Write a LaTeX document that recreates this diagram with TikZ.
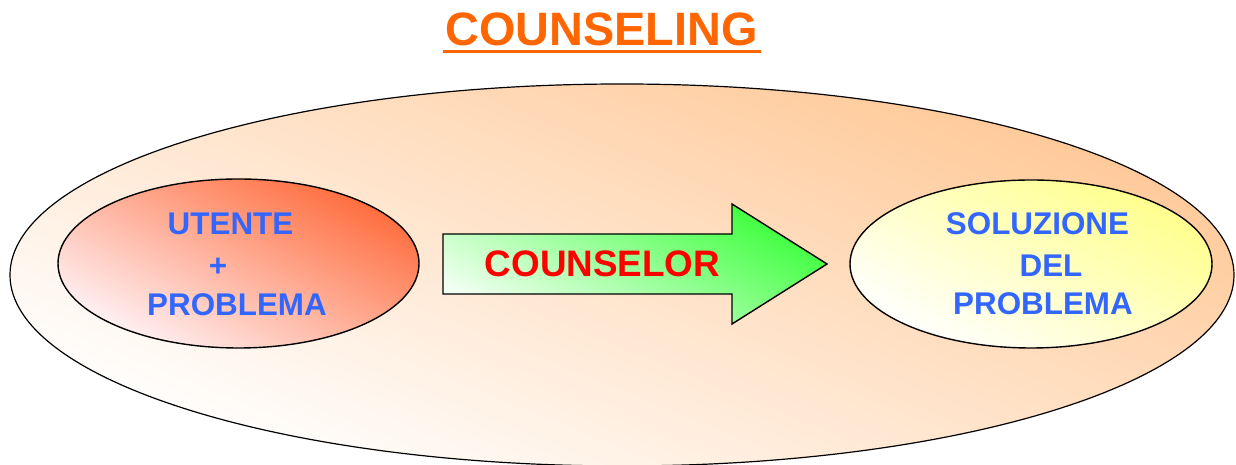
\documentclass[tikz,border=0pt]{standalone}
\usepackage{fontspec}
\setmainfont{Liberation Sans}
\usetikzlibrary{shapes.geometric}
\definecolor{ttlorange}{RGB}{255,102,0}
\definecolor{txtblue}{RGB}{51,102,255}
\definecolor{txtred}{RGB}{255,0,0}
\definecolor{peach}{RGB}{255,200,150}
\definecolor{redorange}{RGB}{255,108,60}
\definecolor{palepink}{RGB}{255,242,245}
\definecolor{brightgreen}{RGB}{60,255,60}
\definecolor{palegreen}{RGB}{240,255,240}
\definecolor{paleyellow}{RGB}{255,255,140}
\tikzset{
  bubble/.style={draw=black, line width=1.4bp, ellipse, inner sep=0pt, shading=axis},
  bluetxt/.style={anchor=base, text=txtblue, font=\bfseries\fontsize{31.5}{38}\selectfont, inner sep=0pt},
}
\begin{document}
\begin{tikzpicture}[x=1bp,y=1bp]
\useasboundingbox (0,0) rectangle (1236,465);
\clip (0,0) rectangle (1236,465);
\fill[white] (0,0) rectangle (1236,465);
% outer ellipse
\node[bubble, line width=1.2bp, minimum width=1224bp, minimum height=382bp,
      top color=peach, bottom color=white, shading angle=-22] (outer) at (622,190) {};
% title
\node[anchor=base, text=ttlorange, font=\bfseries\fontsize{47}{50}\selectfont, inner sep=0pt] (title) at (601.5,419) {COUNSELING};
\draw[ttlorange, line width=2.7bp] (443,413.7) -- (761,413.7);
% left ellipse
\node[bubble, minimum width=361bp, minimum height=169bp,
      top color=redorange, bottom color=palepink, shading angle=-28] (utente) at (238.5,201.5) {};
\node[bluetxt] (u1) at (230.5,230) {UTENTE};
\node[bluetxt] (u2) at (218,188) {+};
\node[bluetxt] (u3) at (237,149.3) {PROBLEMA};
% right ellipse
\node[bubble, minimum width=362bp, minimum height=168bp,
      top color=paleyellow, bottom color=white, shading angle=-28] (soluz) at (1031,201) {};
\node[bluetxt] (s1) at (1037.5,230.7) {SOLUZIONE};
\node[bluetxt] (s2) at (1051,188.3) {DEL};
\node[bluetxt] (s3) at (1043,150) {PROBLEMA};
% block arrow
\draw[line width=1.4bp, line join=miter, top color=brightgreen, bottom color=palegreen, shading angle=-28]
  (443,171) -- (443,231) -- (732,231) -- (732,261) -- (827,201) -- (732,141) -- (732,171) -- cycle;
\node[anchor=base, text=txtred, font=\bfseries\fontsize{37}{40}\selectfont, inner sep=0pt] (counselor) at (602.5,188.3) {COUNSELOR};
\end{tikzpicture}
\end{document}
